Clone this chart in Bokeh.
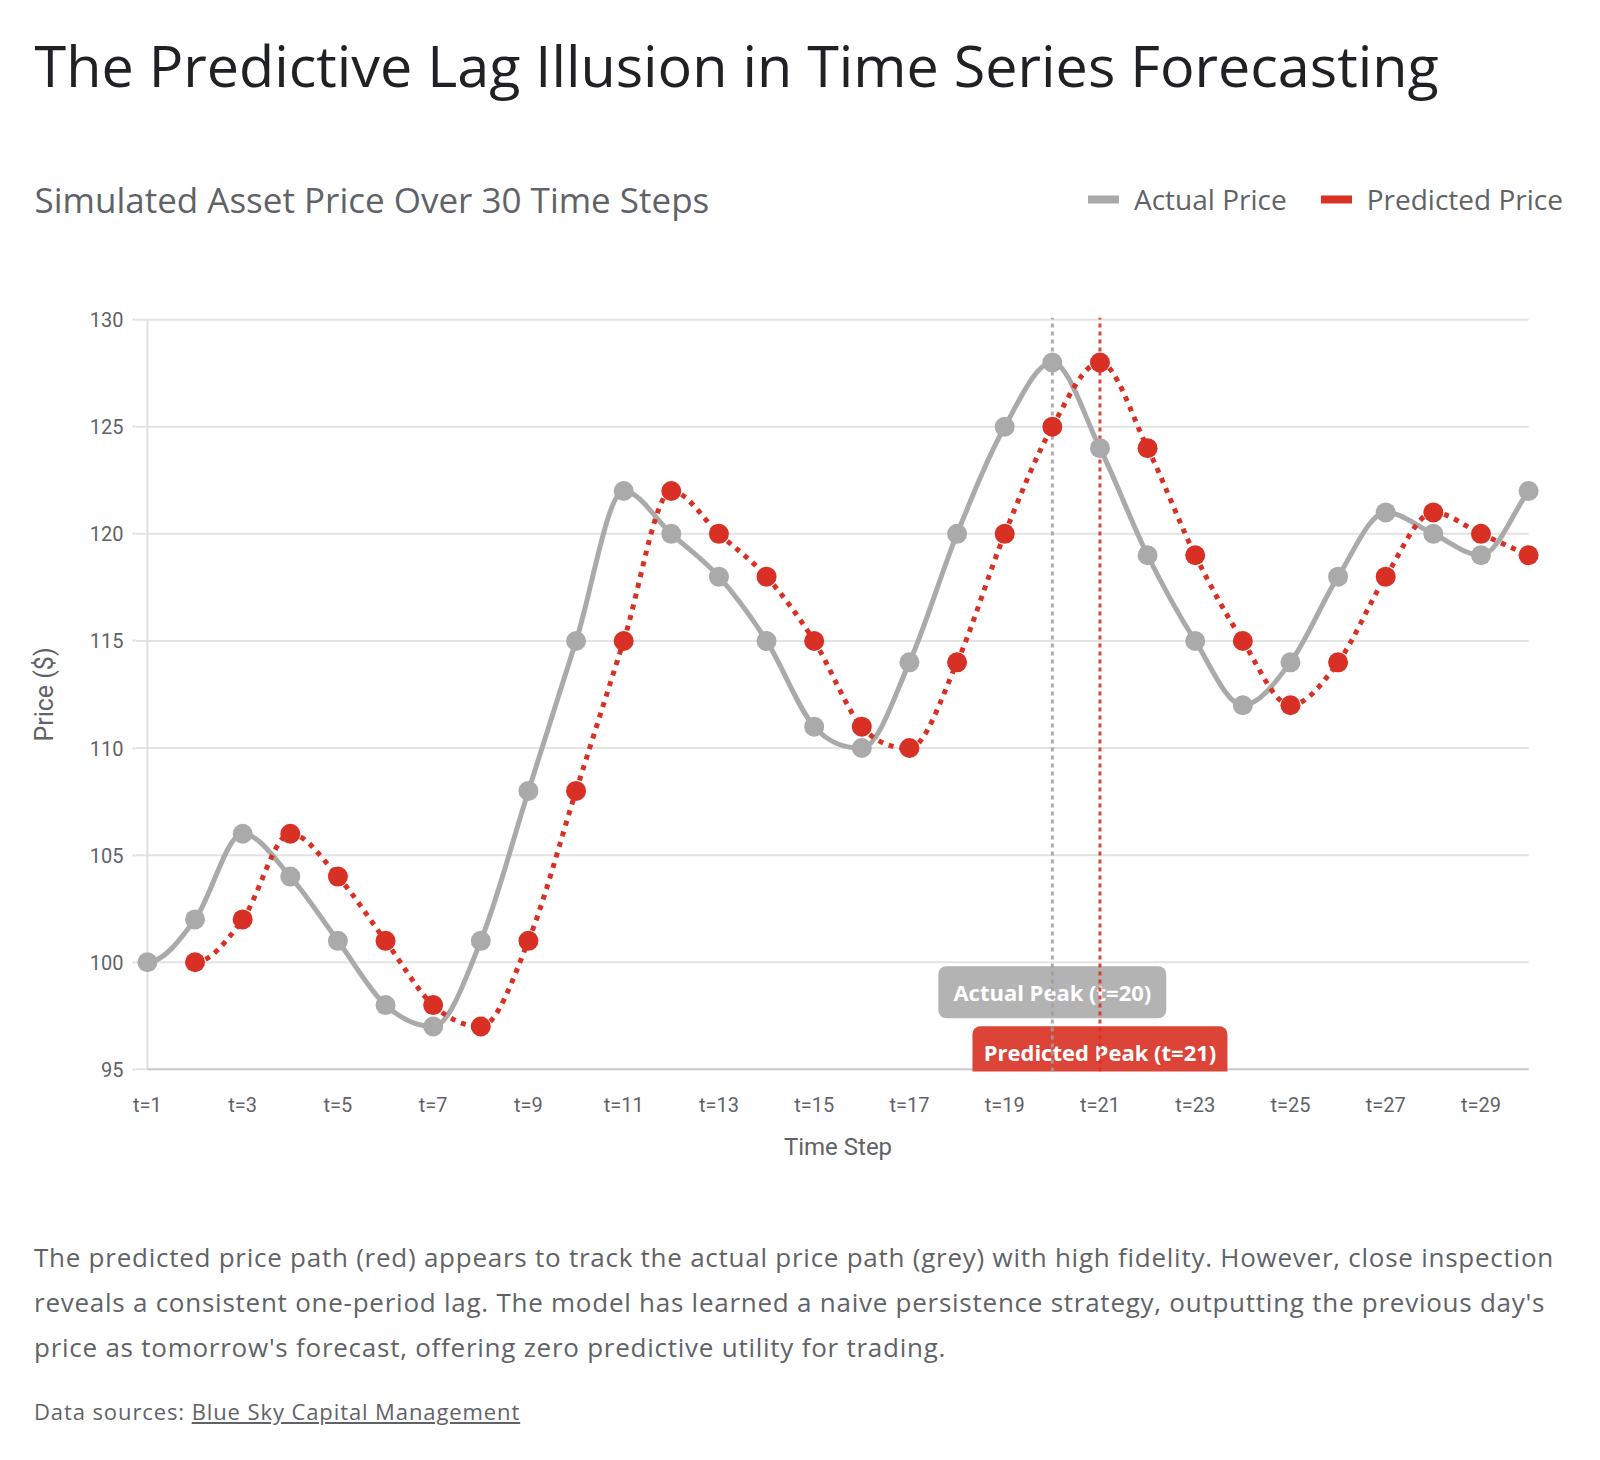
import numpy as np
from bokeh.plotting import figure
from bokeh.models import Range1d, FixedTicker, Label, Legend, LegendItem, Div
from bokeh.layouts import column
from bokeh.embed import file_html
from bokeh.resources import INLINE
from bokeh.core.properties import value

# ---------------- data ----------------
time_steps = list(range(1, 31))
actual_price = [100, 102, 106, 104, 101, 98, 97, 101, 108, 115,
                122, 120, 118, 115, 111, 110, 114, 120, 125, 128,
                124, 119, 115, 112, 114, 118, 121, 120, 119, 122]
predicted_price = [None, 100, 102, 106, 104, 101, 98, 97, 101, 108,
                   115, 122, 120, 118, 115, 111, 110, 114, 120, 125,
                   128, 124, 119, 115, 112, 114, 118, 121, 120, 119]
x_tick_steps = [1, 3, 5, 7, 9, 11, 13, 15, 17, 19, 21, 23, 25, 27, 29]
x_tick_labels = ["t=1", "t=3", "t=5", "t=7", "t=9", "t=11", "t=13", "t=15",
                 "t=17", "t=19", "t=21", "t=23", "t=25", "t=27", "t=29"]
y_ticks = [95, 100, 105, 110, 115, 120, 125, 130]
series_names = ["Actual Price", "Predicted Price"]
peak_steps = [20, 21]
peak_labels = ["Actual Peak (t=20)", "Predicted Peak (t=21)"]

TITLE = "The Predictive Lag Illusion in Time Series Forecasting"
SUBTITLE = "Simulated Asset Price Over 30 Time Steps"
BODY = ["The predicted price path (red) appears to track the actual price path (grey) with high fidelity. However, close inspection",
        "reveals a consistent one-period lag. The model has learned a naive persistence strategy, outputting the previous day's",
        "price as tomorrow's forecast, offering zero predictive utility for trading."]
SOURCE_PREFIX = "Data sources: "
SOURCE_NAME = "Blue Sky Capital Management"

# ---------------- style ----------------
FONT = "Open Sans"
TICK_FONT = "Roboto"
GREY = "#aaaaaa"
RED = "#d93025"
TEXT = "#5f6368"
W = 1600
HEAD_H = 290
MAIN_H = 890
BL, BR, BT, BB = 135, 60, 27, 109


def monotone_bezier(xs, ys):
    xs = np.asarray(xs, float)
    ys = np.asarray(ys, float)
    n = len(xs)
    dx = np.diff(xs)
    d = np.diff(ys) / dx
    m = np.zeros(n)
    m[-1] = d[-1]
    for k in range(1, n - 1):
        if d[k - 1] == 0 or d[k] == 0 or (d[k - 1] > 0) != (d[k] > 0):
            m[k] = 0.0
        else:
            m[k] = (d[k - 1] + d[k]) / 2
    for k in range(n - 1):
        if d[k] == 0:
            m[k] = m[k + 1] = 0.0
            continue
        a = m[k] / d[k]
        b = m[k + 1] / d[k]
        s = a * a + b * b
        if s > 9:
            t = 3 / np.sqrt(s)
            m[k] = t * a * d[k]
            m[k + 1] = t * b * d[k]
    h = dx / 3
    return dict(x0=xs[:-1], y0=ys[:-1], x1=xs[1:], y1=ys[1:],
                cx0=xs[:-1] + h, cy0=ys[:-1] + m[:-1] * h,
                cx1=xs[1:] - h, cy1=ys[1:] - m[1:] * h)


# ---------------- header (title, subtitle, legend) ----------------
head = figure(width=W, height=HEAD_H, x_range=Range1d(0, W), y_range=Range1d(0, HEAD_H),
              x_axis_type=None, y_axis_type=None,
              output_backend="svg", toolbar_location=None,
              min_border=0, min_border_left=0, min_border_right=0,
              min_border_top=0, min_border_bottom=0)
head.frame_align = False
head.grid.visible = False
head.outline_line_color = None
head.add_layout(Label(x=34, y=HEAD_H - 64, text=TITLE, text_font=FONT, text_font_size="57.5px",
                      text_color="#202124", text_baseline="alphabetic"))
head.add_layout(Label(x=34, y=HEAD_H - 199, text=SUBTITLE, text_font=FONT, text_font_size="35px",
                      text_color=TEXT, text_baseline="alphabetic"))
leg_a = head.line(x=[np.nan], y=[np.nan], line_color=GREY, line_width=8, line_cap="round")
leg_p = head.line(x=[np.nan], y=[np.nan], line_color=RED, line_width=8, line_cap="round")
legend = Legend(items=[LegendItem(label=series_names[0], renderers=[leg_a]),
                       LegendItem(label=series_names[1], renderers=[leg_p])],
                orientation="horizontal", location=(1088, 72),
                padding=0, margin=0, spacing=34, label_standoff=15,
                glyph_width=31, glyph_height=38, label_height=38,
                label_text_font=FONT, label_text_font_size="28px", label_text_color=TEXT,
                border_line_alpha=0, background_fill_alpha=0)
head.add_layout(legend, "center")

# ---------------- main chart ----------------
x_range = Range1d(time_steps[0] - 0.25, time_steps[-1] + 0.25)
y_range = Range1d(y_ticks[0] - 0.1, y_ticks[-1] + 0.1)

p = figure(width=W, height=MAIN_H, x_range=x_range, y_range=y_range,
           output_backend="svg", toolbar_location=None,
           min_border_left=BL, min_border_right=BR, min_border_top=BT, min_border_bottom=BB)
p.frame_align = False
p.outline_line_color = None
p.xgrid.visible = False
p.ygrid.visible = False

p.yaxis.ticker = FixedTicker(ticks=y_ticks)
p.yaxis.axis_line_color = None
p.yaxis.major_tick_line_color = "#e0e0e0"
p.yaxis.major_tick_line_width = 2
p.yaxis.major_tick_out = 3
p.yaxis.major_tick_in = 0
p.yaxis.minor_tick_line_color = None
p.yaxis.major_label_standoff = 9
p.yaxis.major_label_text_font = TICK_FONT
p.yaxis.major_label_text_font_size = "20px"
p.yaxis.major_label_text_color = TEXT
p.yaxis.axis_label = "Price ($)"
p.yaxis.axis_label_text_font = TICK_FONT
p.yaxis.axis_label_text_font_size = "25px"
p.yaxis.axis_label_text_font_style = "normal"
p.yaxis.axis_label_text_color = TEXT
p.yaxis.axis_label_standoff = 28

p.xaxis.ticker = FixedTicker(ticks=x_tick_steps)
p.xaxis.major_label_overrides = {s: l for s, l in zip(x_tick_steps, x_tick_labels)}
p.xaxis.axis_line_color = None
p.xaxis.major_tick_line_color = None
p.xaxis.minor_tick_line_color = None
p.xaxis.major_label_standoff = 15
p.xaxis.major_label_text_font = TICK_FONT
p.xaxis.major_label_text_font_size = "20px"
p.xaxis.major_label_text_color = TEXT
p.xaxis.axis_label = "Time Step"
p.xaxis.axis_label_text_font = TICK_FONT
p.xaxis.axis_label_text_font_size = "24px"
p.xaxis.axis_label_text_font_style = "normal"
p.xaxis.axis_label_text_color = TEXT
p.xaxis.axis_label_standoff = 13

# grid lines and axis lines
n_y = len(y_ticks)
p.segment(x0=[x_range.start] * n_y, y0=y_ticks, x1=[time_steps[-1]] * n_y, y1=y_ticks,
          line_color="#e3e3e3", line_width=2)
p.segment(x0=[time_steps[0]], y0=[y_ticks[0]], x1=[time_steps[0]], y1=[y_ticks[-1]],
          line_color="#e0e0e0", line_width=2)
p.segment(x0=[time_steps[0]], y0=[y_ticks[0]], x1=[time_steps[-1]], y1=[y_ticks[0]],
          line_color="#cccccc", line_width=2)

# peak annotation boxes
box_y = [98.6, 95.8]
box_w = [228, 255]
box_colors = ["#b3b3b3", "#dc4437"]
for xs, yb, wb, cb, lab in zip(peak_steps, box_y, box_w, box_colors, peak_labels):
    p.rect(x=[xs], y=[yb], width=wb, height=52, width_units="screen", height_units="screen",
           fill_color=cb, line_color=None, border_radius=8)
    p.text(x=[xs], y=[yb], text=[lab], text_align="center", text_baseline="middle",
           text_font=value(FONT), text_font_style="bold", text_font_size="22px", text_color="white")

# peak vertical lines
p.segment(x0=[peak_steps[0]], x1=[peak_steps[0]], y0=[y_range.start], y1=[y_range.end],
          line_color="#9e9e9e", line_width=3, line_dash="4 4", line_alpha=0.85)
p.segment(x0=[peak_steps[1]], x1=[peak_steps[1]], y0=[y_range.start], y1=[y_range.end],
          line_color=RED, line_width=3, line_dash="4 4", line_alpha=0.9)

# series
pred_x = [t for t, v in zip(time_steps, predicted_price) if v is not None]
pred_y = [v for v in predicted_price if v is not None]
p.bezier(line_color=GREY, line_width=5, **monotone_bezier(time_steps, actual_price))
p.bezier(line_color=RED, line_width=5, line_dash="5 6", **monotone_bezier(pred_x, pred_y))
p.scatter(x=time_steps, y=actual_price, size=20, fill_color=GREY, line_color=None)
p.scatter(x=pred_x, y=pred_y, size=20, fill_color=RED, line_color=None)

# ---------------- footer ----------------
body_html = (
    f'<div style="font-family:\'{FONT}\';font-size:26px;letter-spacing:0.75px;line-height:45px;color:{TEXT};'
    f'padding:55px 0 0 34px;white-space:nowrap;">' + "<br>".join(BODY) + '</div>'
    f'<div style="font-family:\'{FONT}\';font-size:22px;letter-spacing:0.9px;line-height:30px;color:{TEXT};'
    f'padding:26px 0 0 34px;white-space:nowrap;">{SOURCE_PREFIX}<u>{SOURCE_NAME}</u></div>'
)
footer = Div(text=body_html, width=W, height=1460 - HEAD_H - MAIN_H, margin=(0, 0, 0, 0))

layout = column(head, p, footer, spacing=0)
open("out.html", "w").write(file_html(layout, INLINE))
